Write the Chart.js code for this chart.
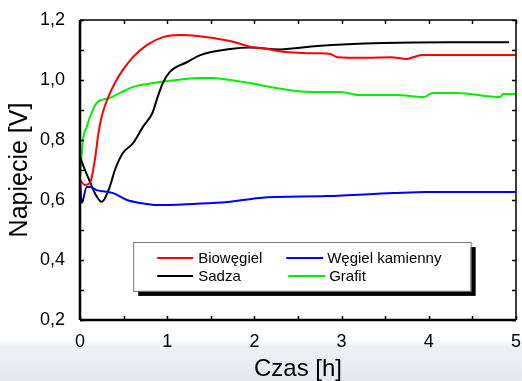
<!DOCTYPE html>
<html>
<head>
<meta charset="utf-8">
<script src="https://cdn.jsdelivr.net/npm/chart.js@4/dist/chart.umd.min.js"></script>
<style>
  html, body { margin: 0; padding: 0; }
  body {
    width: 522px; height: 381px; overflow: hidden;
    background: linear-gradient(to bottom, #ffffff 0px, #ffffff 338px, #eef1f4 346px, #e4e9ee 381px);
  }
  #wrap { position: relative; width: 522px; height: 381px; }
</style>
</head>
<body>
<div id="wrap"><canvas id="chart"></canvas></div>
<script>
// ── Data (time in h, voltage in V) ──────────────────────────────────────────
const bioT = [0, 0.057, 0.115, 0.17, 0.21, 0.25, 0.31, 0.40, 0.49, 0.61, 0.77, 0.95, 1.15, 1.35, 1.72, 1.95, 2.18, 2.33, 2.72, 2.87, 2.95, 3.25, 3.56, 3.75, 3.82, 3.93, 4.5, 5.0];
const bioV = [0.667, 0.65, 0.657, 0.733, 0.82, 0.88, 0.933, 0.99, 1.033, 1.077, 1.117, 1.143, 1.15, 1.147, 1.13, 1.111, 1.102, 1.094, 1.089, 1.087, 1.076, 1.074, 1.076, 1.07, 1.076, 1.083, 1.083, 1.083];

const wegT = [0, 0.02, 0.077, 0.115, 0.19, 0.38, 0.54, 0.69, 0.88, 1.3, 1.69, 2.06, 2.83, 3.59, 3.98, 5.0];
const wegV = [0.673, 0.59, 0.643, 0.643, 0.633, 0.623, 0.6, 0.59, 0.583, 0.587, 0.593, 0.607, 0.613, 0.623, 0.627, 0.627];

const sadT = [0, 0.057, 0.115, 0.17, 0.25, 0.34, 0.40, 0.49, 0.61, 0.72, 0.83, 0.89, 0.95, 1.03, 1.23, 1.38, 1.72, 1.95, 2.29, 2.72, 3.47, 4.24, 4.92];
const sadV = [0.743, 0.70, 0.66, 0.623, 0.594, 0.643, 0.70, 0.756, 0.79, 0.843, 0.89, 0.943, 0.99, 1.027, 1.06, 1.083, 1.103, 1.108, 1.102, 1.113, 1.123, 1.126, 1.126];

const graT = [0, 0.034, 0.077, 0.115, 0.19, 0.34, 0.46, 0.61, 0.84, 1.11, 1.38, 1.5, 1.72, 1.95, 2.18, 2.67, 2.98, 3.21, 3.63, 3.94, 4.05, 4.32, 4.82, 4.85, 5.0];
const graV = [0.677, 0.8, 0.843, 0.877, 0.923, 0.94, 0.957, 0.977, 0.99, 1.0, 1.007, 1.007, 1.0, 0.99, 0.977, 0.96, 0.96, 0.95, 0.95, 0.943, 0.957, 0.957, 0.943, 0.953, 0.953];

const xTicks = [0, 1, 2, 3, 4, 5];
const yTicks = [0.2, 0.4, 0.6, 0.8, 1.0, 1.2];

const FONT = "'Liberation Sans', Arial, sans-serif";

function pts(t, v) { return t.map((x, i) => ({ x, y: v[i] })); }

function series(label, t, v, color) {
  return {
    label, data: pts(t, v),
    borderColor: color, backgroundColor: color,
    borderWidth: 2, pointRadius: 0, fill: false,
    cubicInterpolationMode: 'monotone',
  };
}

// ── Frame with inward ticks ────────────────────────────────────────────────
const framePlugin = {
  id: 'frame',
  afterDatasetsDraw(chart) {
    const { ctx, chartArea: a, scales: { x, y } } = chart;
    ctx.save();
    ctx.strokeStyle = '#000';
    ctx.lineWidth = 1.5;
    // x ticks every 0.5 h, y ticks every 0.1 V
    for (let t = 0; t <= 5.001; t += 0.5) {
      const px = Math.round(x.getPixelForValue(t)) + 0.5;
      ctx.beginPath();
      ctx.moveTo(px, a.bottom); ctx.lineTo(px, a.bottom - 4);
      ctx.moveTo(px, a.top); ctx.lineTo(px, a.top + 4);
      ctx.stroke();
    }
    for (let v = 0.2; v <= 1.2001; v += 0.1) {
      const py = Math.round(y.getPixelForValue(v)) + 0.5;
      ctx.beginPath();
      ctx.moveTo(a.left, py); ctx.lineTo(a.left + 4, py);
      ctx.moveTo(a.right, py); ctx.lineTo(a.right - 4, py);
      ctx.stroke();
    }
    ctx.lineWidth = 2.5;
    ctx.beginPath();
    ctx.moveTo(a.left, a.bottom); ctx.lineTo(a.right, a.bottom);
    ctx.moveTo(a.left, a.top); ctx.lineTo(a.left, a.bottom);
    ctx.stroke();
    ctx.lineWidth = 1.5;
    ctx.beginPath();
    ctx.moveTo(a.left, a.top); ctx.lineTo(a.right, a.top); ctx.lineTo(a.right, a.bottom);
    ctx.stroke();
    ctx.restore();
  }
};

// ── Boxed legend with drop shadow ──────────────────────────────────────────
const boxLegend = {
  id: 'boxLegend',
  afterDatasetsDraw(chart) {
    const { ctx, scales: { x, y } } = chart;
    const ds = chart.data.datasets;
    const L = x.getPixelForValue(0.61), R = x.getPixelForValue(4.48);
    const T = y.getPixelForValue(0.46), B = y.getPixelForValue(0.297);
    ctx.save();
    ctx.fillStyle = '#000';
    ctx.fillRect(L + 5, T + 5, R - L, B - T);
    ctx.fillStyle = '#fff';
    ctx.fillRect(L, T, R - L, B - T);
    ctx.strokeStyle = '#777';
    ctx.lineWidth = 1;
    ctx.strokeRect(L + 0.5, T + 0.5, R - L, B - T);
    ctx.font = '15px ' + FONT;
    ctx.textBaseline = 'middle';
    // [line start, line end, text x] per column; Grafit sits 2px further right
    const slots = [
      [L + 24, L + 60, L + 65, T + 16],
      [L + 153, L + 190, L + 194, T + 16],
      [L + 24, L + 60, L + 65, T + 34],
      [L + 155, L + 192, L + 196, T + 34],
    ];
    slots.forEach(([x0, x1, tx, ry], i) => {
      ctx.strokeStyle = ds[i].borderColor;
      ctx.lineWidth = 2;
      ctx.beginPath();
      ctx.moveTo(x0, ry); ctx.lineTo(x1, ry);
      ctx.stroke();
      ctx.fillStyle = '#000';
      ctx.fillText(ds[i].label, tx, ry + 1);
    });
    ctx.restore();
  }
};

new Chart(document.getElementById('chart'), {
  type: 'line',
  data: {
    datasets: [
      series('Biowęgiel', bioT, bioV, '#ff0000'),
      series('Węgiel kamienny', wegT, wegV, '#0000ff'),
      series('Sadza', sadT, sadV, '#000000'),
      series('Grafit', graT, graV, '#00f000'),
    ]
  },
  options: {
    responsive: true,
    maintainAspectRatio: false,
    animation: false,
    layout: { padding: { top: 20, right: 6, left: 0, bottom: 0 } },
    plugins: { legend: { display: false }, tooltip: { enabled: false } },
    scales: {
      x: {
        type: 'linear', min: 0, max: 5,
        afterFit(s) { s.height = 61; s.paddingLeft = 0; s.paddingRight = 0; },
        afterBuildTicks(s) { s.ticks = xTicks.map(v => ({ value: v })); },
        grid: { display: false }, border: { display: false },
        ticks: { color: '#000', padding: 3, maxRotation: 0, font: { family: FONT, size: 18 } },
        title: { display: true, text: 'Czas [h]', color: '#000', padding: { top: 0, bottom: -3 }, font: { family: FONT, size: 24 } },
      },
      y: {
        type: 'linear', min: 0.2, max: 1.2,
        afterFit(s) { s.width = 80; s.paddingTop = 0; s.paddingBottom = 0; },
        afterBuildTicks(s) { s.ticks = yTicks.map(v => ({ value: v })); },
        grid: { display: false }, border: { display: false },
        ticks: {
          color: '#000', padding: 7, font: { family: FONT, size: 18 },
          callback: v => v.toFixed(1).replace('.', ','),
        },
        title: { display: true, text: 'Napięcie [V]', color: '#000', padding: { top: 5, bottom: 0 }, font: { family: FONT, size: 25 } },
      }
    }
  },
  plugins: [framePlugin, boxLegend]
});
</script>
</body>
</html>
